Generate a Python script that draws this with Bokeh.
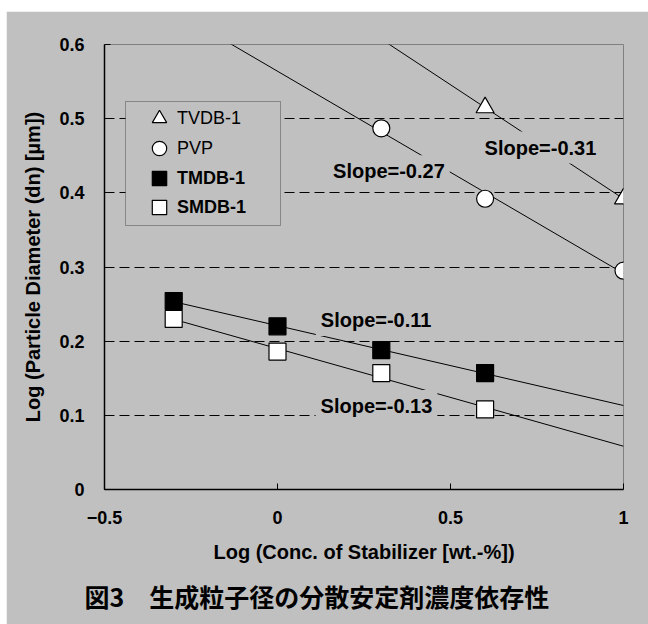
import numpy as np
from bokeh.plotting import figure
from bokeh.layouts import column, row
from bokeh.models import (Range1d, FixedTicker, Legend, LegendItem, Label, BoxAnnotation,
                          Title, Spacer)
from bokeh.embed import file_html
from bokeh.resources import INLINE

FONT = "Liberation Sans"
CJK = "Noto Sans CJK JP"
BG = "#c0c0c0"

# ---------------- data ----------------
x_ticks = [-0.5, 0.0, 0.5, 1.0]
x_tick_labels = ["\u22120.5", "0", "0.5", "1"]
y_ticks = [0.0, 0.1, 0.2, 0.3, 0.4, 0.5, 0.6]
y_tick_labels = ["0", "0.1", "0.2", "0.3", "0.4", "0.5", "0.6"]

series_names = ["TVDB-1", "PVP", "TMDB-1", "SMDB-1"]

tvdb_x = [0.6, 1.0]
tvdb_y = [0.515, 0.392]

pvp_x = [0.3, 0.6, 1.0]
pvp_y = [0.487, 0.392, 0.295]

tmdb_x = [-0.3, 0.0, 0.3, 0.6]
tmdb_y = [0.254, 0.220, 0.188, 0.157]

smdb_x = [-0.3, 0.0, 0.3, 0.6]
smdb_y = [0.230, 0.186, 0.157, 0.108]

slope_texts = ["Slope=-0.31", "Slope=-0.27", "Slope=-0.11", "Slope=-0.13"]

x_title = "Log (Conc. of Stabilizer [wt.-%])"
y_title = "Log (Particle Diameter (dn) [\u00b5m])"
caption = "図3\u3000生成粒子径の分散安定剤濃度依存性"

# ---------------- figure ----------------
p = figure(width=642, height=613,
           x_range=Range1d(x_ticks[0], x_ticks[-1]),
           y_range=Range1d(y_ticks[0], y_ticks[-1]),
           output_backend="svg", toolbar_location=None,
           min_border_left=98, min_border_right=25,
           min_border_top=33, min_border_bottom=135)
p.background_fill_color = BG
p.border_fill_color = BG
p.outline_line_color = "#808080"
p.outline_line_width = 1

p.xgrid.visible = False
p.ygrid.ticker = FixedTicker(ticks=y_ticks)
p.ygrid.grid_line_color = "black"
p.ygrid.grid_line_dash = "10 5"
p.ygrid.grid_line_width = 1

for ax, ticks, labels in ((p.xaxis, x_ticks, x_tick_labels), (p.yaxis, y_ticks, y_tick_labels)):
    ax.ticker = FixedTicker(ticks=ticks)
    ax.major_label_overrides = dict(zip(ticks, labels))
    ax.major_label_text_font = FONT
    ax.major_label_text_font_size = "18px"
    ax.major_label_text_font_style = "bold"
    ax.major_label_text_color = "black"
    ax.axis_line_color = "black"
    ax.axis_line_width = 1.5
    ax.major_tick_in = 6
    ax.major_tick_out = 0
    ax.major_tick_line_color = "black"
    ax.minor_tick_line_color = None
    ax.axis_label_text_font = FONT
    ax.axis_label_text_font_size = "20px"
    ax.axis_label_text_font_style = "bold"
    ax.axis_label_text_color = "black"

p.xaxis.axis_label = x_title
p.yaxis.axis_label = y_title
p.xaxis.major_label_standoff = 21
p.xaxis.axis_label_standoff = 14
p.yaxis.major_label_standoff = 20
p.yaxis.axis_label_standoff = 12

# ---------------- fitted lines ----------------
x0, x1 = p.x_range.start, p.x_range.end
for xs, ys, from_left in ((tvdb_x, tvdb_y, True), (pvp_x, pvp_y, True),
                          (tmdb_x, tmdb_y, False), (smdb_x, smdb_y, False)):
    m, b = np.polyfit(xs, ys, 1)
    xa = x0 if from_left else min(xs)
    p.line([xa, x1], [m * xa + b, m * x1 + b], line_color="black", line_width=1)

# ---------------- markers ----------------
r_tv = p.scatter(tvdb_x, tvdb_y, marker="triangle", size=18, fill_color="white",
                 line_color="black", line_width=1.2)
r_pvp = p.scatter(pvp_x, pvp_y, marker="circle", size=17, fill_color="white",
                  line_color="black", line_width=1.2)
r_tm = p.scatter(tmdb_x, tmdb_y, marker="square", size=17, fill_color="black",
                 line_color="black", line_width=1.2)
r_sm = p.scatter(smdb_x, smdb_y, marker="square", size=17, fill_color="white",
                 line_color="black", line_width=1.2)

# ---------------- slope labels ----------------
slope_pos = [(0.760, 0.461), (0.322, 0.429), (0.285, 0.2285), (0.286, 0.1126)]
for (lx, ly), t in zip(slope_pos, slope_texts):
    p.add_layout(Label(x=lx, y=ly, text=t, text_font=FONT, text_font_size="20px",
                       text_font_style="bold", text_align="center", text_baseline="middle",
                       text_color="black", background_fill_color=BG, padding=5))

# ---------------- legend ----------------
p.add_layout(BoxAnnotation(left=21, right=176, top=388, bottom=264,
                           left_units="screen", right_units="screen",
                           top_units="screen", bottom_units="screen",
                           fill_color=BG, fill_alpha=1, line_color="black", line_width=1))

renderers = [r_tv, r_pvp, r_tm, r_sm]
styles = ["normal", "normal", "bold", "bold"]
legend_y = [353, 323, 293, 264]
for name, r, st, ly in zip(series_names, renderers, styles, legend_y):
    p.add_layout(Legend(items=[LegendItem(label=name, renderers=[r])], location=(37, ly),
                        glyph_width=36, glyph_height=36, label_height=36, spacing=0,
                        padding=0, margin=0, label_standoff=-3,
                        label_text_font=FONT, label_text_font_size="18px",
                        label_text_font_style=st, label_text_color="black",
                        background_fill_alpha=0, border_line_alpha=0))

# ---------------- caption ----------------
p.add_layout(Title(text=caption, align="left", offset=-20, standoff=20,
                   text_font=CJK, text_font_size="25px", text_font_style="bold",
                   text_color="black"), "below")

layout = column(Spacer(width=648, height=11), row(Spacer(width=6, height=613), p))
open("out.html", "w").write(file_html(layout, INLINE))
